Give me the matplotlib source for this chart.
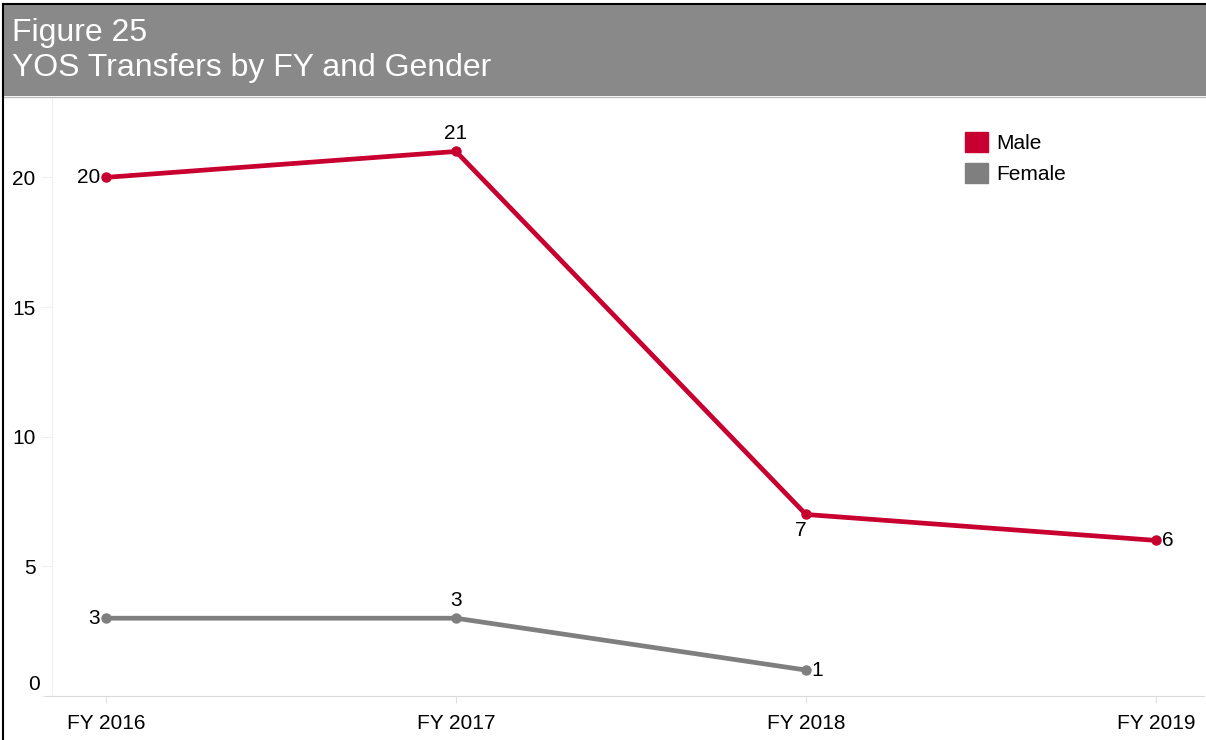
import matplotlib
matplotlib.use('Agg')
import matplotlib.pyplot as plt
from matplotlib.patches import Rectangle
from matplotlib.lines import Line2D
from matplotlib.transforms import offset_copy

plt.rcParams['font.family'] = ['Liberation Sans', 'DejaVu Sans']

years = ['FY 2016', 'FY 2017', 'FY 2018', 'FY 2019']
male = [20, 21, 7, 6]
female = [3, 3, 1]
yticks = [0, 5, 10, 15, 20]

MALE_C = '#C8002F'
FEMALE_C = '#7F7F7F'
BANNER_C = '#898989'

W, H = 1206, 740
fig = plt.figure(figsize=(W / 100, H / 100), dpi=100)

# banner with title
fig.patches.append(Rectangle((4/W, 1 - 96/H), 1, 92/H, transform=fig.transFigure,
                             facecolor=BANNER_C, edgecolor='none', zorder=0))
fig.lines.append(Line2D([4/W, 1], [1 - 96.5/H, 1 - 96.5/H], transform=fig.transFigure,
                        color='#BDBDBD', lw=1))
fig.text(12/W, 1 - 33/H, 'Figure 25', color='white', fontsize=23, va='center', ha='left')
fig.text(12/W, 1 - 68/H, 'YOS Transfers by FY and Gender', color='white', fontsize=23,
         va='center', ha='left')
# outer border, left and top only
fig.lines.append(Line2D([3.5/W, 3.5/W], [0, 1 - 3.5/H], transform=fig.transFigure,
                        color='black', lw=1.5, zorder=10))
fig.lines.append(Line2D([3.5/W, 1], [1 - 3.5/H, 1 - 3.5/H], transform=fig.transFigure,
                        color='black', lw=1.5, zorder=10))

ax = fig.add_axes([52/W, 1 - 696/H, 1152/W, (696 - 97)/H])
x = list(range(len(years)))
ax.plot(x, male, color=MALE_C, lw=3.4, marker='o', ms=6.5, zorder=3)
ax.plot(x[:len(female)], female, color=FEMALE_C, lw=3.4, marker='o', ms=6.5, zorder=3)

ax.set_xlim(-0.154, 3.137)
ax.set_ylim(0.04, 23.1)
ax.set_xticks(x)
ax.set_xticklabels(years, fontsize=15)
ax.set_yticks(yticks)
# the "0" label sits a little above its tick, drawn separately
ax.set_yticklabels([''] + [str(v) for v in yticks[1:]], fontsize=15)
ax.text(0, yticks[0], '0', fontsize=15, ha='right', va='center',
        transform=offset_copy(ax.get_yaxis_transform(), fig=fig, x=-12, y=11, units='dots'))
ax.tick_params(axis='y', length=8, color='#F0F0F0', pad=4)
ax.tick_params(axis='x', length=5, color='#E0E0E0', pad=8)
for s in ['top', 'right']:
    ax.spines[s].set_visible(False)
ax.spines['left'].set_color('#F0F0F0')
ax.spines['bottom'].set_color('#DADADA')
ax.spines['bottom'].set_linestyle((0, (2, 1)))
ax.spines['bottom'].set_bounds(-0.175, 3.137)

# value labels
lab = dict(fontsize=15, color='black')
ax.annotate(str(male[0]), (0, male[0]), xytext=(-4, 0), textcoords='offset points', ha='right', va='center', **lab)
ax.annotate(str(male[1]), (1, male[1]), xytext=(0, 6), textcoords='offset points', ha='center', va='bottom', **lab)
ax.annotate(str(male[2]), (2, male[2]), xytext=(-4, -5), textcoords='offset points', ha='center', va='top', **lab)
ax.annotate(str(male[3]), (3, male[3]), xytext=(4, 0), textcoords='offset points', ha='left', va='center', **lab)
ax.annotate(str(female[0]), (0, female[0]), xytext=(-4, 0), textcoords='offset points', ha='right', va='center', **lab)
ax.annotate(str(female[1]), (1, female[1]), xytext=(0, 6), textcoords='offset points', ha='center', va='bottom', **lab)
ax.annotate(str(female[2]), (2, female[2]), xytext=(4, 0), textcoords='offset points', ha='left', va='center', **lab)

# legend
handles = [Rectangle((0, 0), 1, 1, color=MALE_C), Rectangle((0, 0), 1, 1, color=FEMALE_C)]
ax.legend(handles, ['Male', 'Female'], loc='upper left', bbox_to_anchor=(0.778, 0.97),
          frameon=False, fontsize=15, handlelength=1.1, handleheight=1.1,
          handletextpad=0.4, labelspacing=0.5, borderpad=0.3)

fig.savefig('out.png', dpi=100)
